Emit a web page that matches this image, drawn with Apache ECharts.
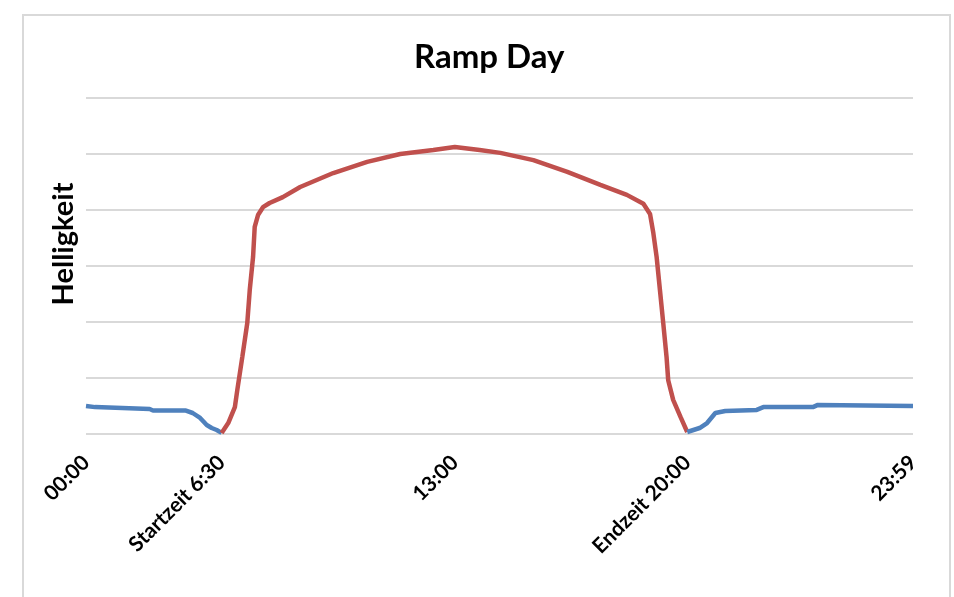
<!DOCTYPE html>
<html>
<head>
<meta charset="utf-8">
<title>Ramp Day</title>
<script src="https://cdn.jsdelivr.net/npm/echarts@6/dist/echarts.min.js"></script>
<style>
    html, body { margin: 0; padding: 0; background: #fff; }
    #chart { width: 954px; height: 597px; }
</style>
</head>
<body>
<div id="chart"></div>
<script>
    // x = Messpunkt (0..1000 über den Tag), y = Helligkeit
    const tickPos = [0, 164, 446, 727, 1000]
    const tickLabels = ['00:00', 'Startzeit 6:30', '13:00', 'Endzeit 20:00', '23:59']

    // Nacht vor Sonnenaufgang (blau)
    const nightMorning = [
        [0, 5.0], [11, 4.8], [13, 4.55], [77, 4.46], [81, 4.2], [120, 4.2],
        [129, 3.75], [138, 2.86], [146, 1.6], [152, 1.07], [158, 0.71], [164, 0.2]
    ]

    // Tag-Rampe (rot)
    const dayRamp = [
        [164, 0.2], [172, 1.96], [180, 4.8], [183, 7.9], [189, 13.75], [195, 19.8],
        [198, 25.7], [202, 31.6], [204, 37.0], [208, 39.1], [214, 40.5], [222, 41.25],
        [238, 42.3], [259, 44.1], [299, 46.6], [340, 48.6], [380, 50.0], [420, 50.7],
        [446, 51.25], [476, 50.7], [501, 50.2], [541, 48.9], [582, 46.8], [622, 44.5],
        [654, 42.7], [674, 41.1], [682, 39.3], [686, 35.9], [690, 31.6], [694, 25.7],
        [698, 19.8], [702, 13.75], [704, 9.6], [710, 6.1], [719, 3.0], [727, 0.36]
    ]

    // Nacht nach Sonnenuntergang (blau)
    const nightEvening = [
        [727, 0.36], [742, 1.07], [751, 1.96], [761, 3.75], [773, 4.1], [811, 4.3],
        [819, 4.8], [879, 4.8], [885, 5.2], [1000, 5.0]
    ]

    const BLUE = '#4f81bd'
    const RED = '#c0504d'

    let chart = echarts.init(document.getElementById('chart'))

    let option = {
        animation: false,
        title: {
            text: 'Ramp Day',
            left: 409,
            top: 36,
            textStyle: {
                fontFamily: 'Lato',
                fontWeight: 'bold',
                fontSize: 33,
                color: '#000'
            }
        },
        graphic: [{
            type: 'rect',
            shape: {x: 23, y: 15, width: 927, height: 620},
            style: {fill: 'none', stroke: '#d9d9d9', lineWidth: 2},
            silent: true
        }],
        grid: {
            left: 86,
            right: 41,
            top: 98,
            bottom: 163
        },
        xAxis: {
            type: 'value',
            min: 0,
            max: 1000,
            splitLine: {show: false},
            axisLine: {show: false},
            axisTick: {show: false},
            axisLabel: {
                customValues: tickPos,
                showMinLabel: true,
                showMaxLabel: true,
                rotate: 45,
                margin: 25,
                fontFamily: 'Lato',
                fontWeight: 'bold',
                fontSize: 21,
                color: '#000',
                formatter(v) {
                    let i = tickPos.indexOf(v)
                    return i >= 0 ? tickLabels[i] : ''
                }
            }
        },
        yAxis: {
            type: 'value',
            min: 0,
            max: 60,
            interval: 10,
            name: 'Helligkeit',
            nameLocation: 'middle',
            nameRotate: 90,
            nameGap: 8,
            nameTextStyle: {
                fontFamily: 'Lato',
                fontWeight: 'bold',
                fontSize: 29,
                color: '#000',
                padding: [0, 0, 0, 44]
            },
            axisLine: {show: false},
            axisTick: {show: false},
            axisLabel: {show: false},
            splitLine: {lineStyle: {color: '#d9d9d9', width: 2}}
        },
        series: [
            {
                name: 'Nacht',
                type: 'line',
                data: nightMorning,
                showSymbol: false,
                lineStyle: {color: BLUE, width: 4.5},
                itemStyle: {color: BLUE}
            },
            {
                name: 'Tag',
                type: 'line',
                data: dayRamp,
                showSymbol: false,
                lineStyle: {color: RED, width: 4.5},
                itemStyle: {color: RED}
            },
            {
                name: 'Nacht',
                type: 'line',
                data: nightEvening,
                showSymbol: false,
                lineStyle: {color: BLUE, width: 4.5},
                itemStyle: {color: BLUE}
            }
        ]
    }

    chart.setOption(option)
</script>
</body>
</html>
